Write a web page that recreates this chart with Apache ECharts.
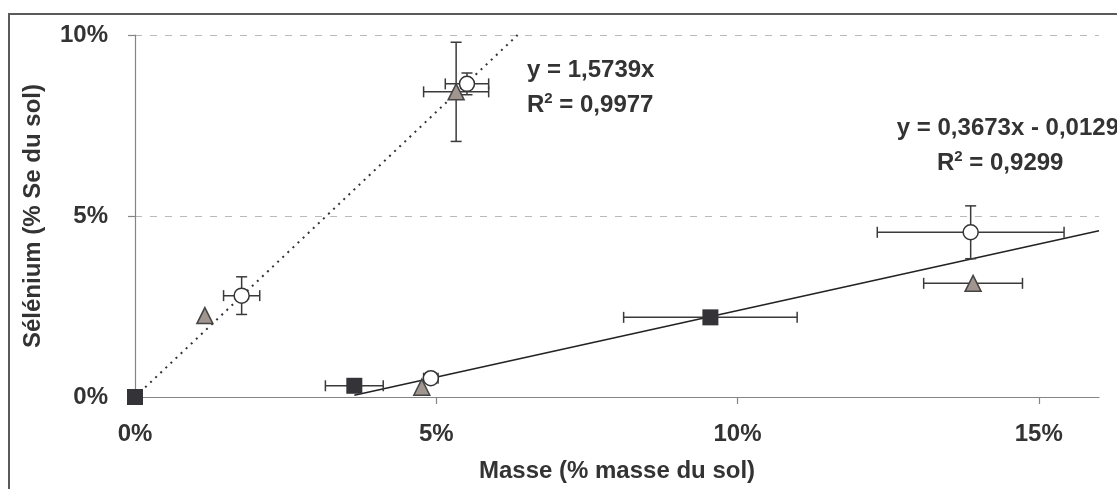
<!DOCTYPE html>
<html lang="fr">
<head>
    <meta charset="UTF-8">
    <title>Sélénium vs masse</title>
    <script src="https://cdn.jsdelivr.net/npm/echarts@6/dist/echarts.min.js"></script>
    <style>
        html, body {
            margin: 0;
            padding: 0;
            background: #fff;
        }

        #main {
            width: 1117px;
            height: 489px;
        }
    </style>
</head>
<body>
<div id="main"></div>
<script>
    // values in % of soil
    var squareX = [0, 3.64, 9.55];
    var squareY = [0, 0.31, 2.2];
    var squareXErr = [0, 0.48, 1.44];
    var squareYErr = [0, 0, 0];

    var circleX = [1.77, 4.91, 5.51, 13.87];
    var circleY = [2.8, 0.52, 8.65, 4.55];
    var circleXErr = [0.3, 0.12, 0.36, 1.55];
    var circleYErr = [0.52, 0, 0.3, 0.73];

    var triangleX = [1.16, 4.76, 5.33, 13.91];
    var triangleY = [2.25, 0.27, 8.43, 3.14];
    var triangleXErr = [0, 0, 0.54, 0.82];
    var triangleYErr = [0, 0, 1.37, 0];

    // trend lines (end points)
    var fitSteep = [[0, 0], [6.35, 10]];
    var fitShallow = [[3.64, 0.05], [16, 4.59]];

    var xTicks = [0, 5, 10, 15];
    var yTicks = [0, 5, 10];

    var FONT = '"Liberation Sans", Arial, sans-serif';
    var TXT = '#333333';

    function pts(xs, ys, xe, ye) {
        var out = [];
        for (var i = 0; i < xs.length; i++) {
            out.push([xs[i], ys[i], xe[i], ye[i]]);
        }
        return out;
    }

    var squares = pts(squareX, squareY, squareXErr, squareYErr);
    var circles = pts(circleX, circleY, circleXErr, circleYErr);
    var triangles = pts(triangleX, triangleY, triangleXErr, triangleYErr);

    // error bars with caps
    function errorBars(params, api) {
        var x = api.value(0), y = api.value(1);
        var xe = api.value(2), ye = api.value(3);
        var cap = 5.5;
        var style = {stroke: '#3a3a3a', lineWidth: 1.5};
        var kids = [];
        if (xe > 0) {
            var l = api.coord([x - xe, y]), r = api.coord([x + xe, y]);
            kids.push({type: 'line', shape: {x1: l[0], y1: l[1], x2: r[0], y2: r[1]}, style: style});
            kids.push({type: 'line', shape: {x1: l[0], y1: l[1] - cap, x2: l[0], y2: l[1] + cap}, style: style});
            kids.push({type: 'line', shape: {x1: r[0], y1: r[1] - cap, x2: r[0], y2: r[1] + cap}, style: style});
        }
        if (ye > 0) {
            var t = api.coord([x, y + ye]), b = api.coord([x, y - ye]);
            kids.push({type: 'line', shape: {x1: t[0], y1: t[1], x2: b[0], y2: b[1]}, style: style});
            kids.push({type: 'line', shape: {x1: t[0] - cap, y1: t[1], x2: t[0] + cap, y2: t[1]}, style: style});
            kids.push({type: 'line', shape: {x1: b[0] - cap, y1: b[1], x2: b[0] + cap, y2: b[1]}, style: style});
        }
        return {type: 'group', children: kids};
    }

    function errSeries(data) {
        return {
            type: 'custom',
            renderItem: errorBars,
            data: data,
            z: 2,
            silent: true,
            clip: false
        };
    }

    var myChart = echarts.init(document.getElementById('main'), null, {renderer: 'canvas'});
    var option = {
        backgroundColor: '#ffffff',
        animation: false,
        textStyle: {fontFamily: FONT},
        grid: {left: 135, right: 18, top: 35, bottom: 92},
        xAxis: {
            type: 'value',
            min: 0,
            max: 16,
            interval: 5,
            name: 'Masse (% masse du sol)',
            nameLocation: 'middle',
            nameGap: 62,
            nameTextStyle: {fontFamily: FONT, fontSize: 24, fontWeight: 'bold', color: TXT},
            axisLine: {onZero: false, lineStyle: {color: '#858585', width: 1.2}},
            axisTick: {show: true, length: 7, customValues: [5, 10, 15], lineStyle: {color: '#858585', width: 1.2}},
            axisLabel: {
                customValues: xTicks,
                margin: 25,
                fontFamily: FONT, fontSize: 24, fontWeight: 'bold', color: TXT,
                formatter: function (v) { return v + '%'; }
            },
            splitLine: {show: false}
        },
        yAxis: {
            type: 'value',
            min: 0,
            max: 10,
            interval: 5,
            name: 'Sélénium (% Se du sol)',
            nameLocation: 'middle',
            nameGap: 90,
            nameTextStyle: {fontFamily: FONT, fontSize: 24, fontWeight: 'bold', color: TXT},
            axisLine: {show: true, onZero: false, lineStyle: {color: '#858585', width: 1.2}},
            axisTick: {show: true, length: 7, customValues: yTicks, lineStyle: {color: '#858585', width: 1.2}},
            axisLabel: {
                customValues: yTicks,
                margin: 27,
                fontFamily: FONT, fontSize: 24, fontWeight: 'bold', color: TXT,
                formatter: function (v) { return v + '%'; }
            },
            splitLine: {
                show: true,
                lineStyle: {color: '#bdb9b5', width: 1.2, type: [7, 8]}
            }
        },
        graphic: [
            {
                type: 'rect', z: -1, silent: true,
                shape: {x: 9, y: 14, width: 1300, height: 700},
                style: {fill: 'none', stroke: '#5a5a5a', lineWidth: 2}
            },
            {
                type: 'text', x: 527, y: 70, z: 10,
                style: {text: 'y = 1,5739x', font: 'bold 24px ' + FONT, fill: TXT, verticalAlign: 'middle'}
            },
            {
                type: 'text', x: 527, y: 105, z: 10,
                style: {
                    text: '{b|R}{s|2}{b| = 0,9977}', verticalAlign: 'middle', fill: TXT,
                    rich: {
                        b: {font: 'bold 24px ' + FONT, fill: TXT, lineHeight: 28},
                        s: {font: 'bold 15px ' + FONT, fill: TXT, lineHeight: 28, verticalAlign: 'top', padding: [0, 0, 12, 0]}
                    }
                }
            },
            {
                type: 'text', x: 1119, y: 128, z: 10,
                style: {text: 'y = 0,3673x - 0,0129', font: 'bold 24px ' + FONT, fill: TXT, align: 'right', verticalAlign: 'middle'}
            },
            {
                type: 'text', x: 937, y: 163, z: 10,
                style: {
                    text: '{b|R}{s|2}{b| = 0,9299}', verticalAlign: 'middle', fill: TXT,
                    rich: {
                        b: {font: 'bold 24px ' + FONT, fill: TXT, lineHeight: 28},
                        s: {font: 'bold 15px ' + FONT, fill: TXT, lineHeight: 28, verticalAlign: 'top', padding: [0, 0, 12, 0]}
                    }
                }
            }
        ],
        series: [
            {
                type: 'line',
                data: fitSteep,
                symbol: 'none',
                silent: true,
                z: 1,
                lineStyle: {color: '#333', width: 2, type: [2, 5]}
            },
            {
                type: 'line',
                data: fitShallow,
                symbol: 'none',
                silent: true,
                z: 1,
                lineStyle: {color: '#222', width: 1.6}
            },
            errSeries(squares),
            errSeries(circles),
            errSeries(triangles),
            {
                type: 'scatter',
                data: squares,
                symbol: 'rect',
                symbolSize: 16,
                z: 5,
                clip: false,
                itemStyle: {color: '#333338', opacity: 1}
            },
            {
                type: 'scatter',
                data: circles,
                symbol: 'circle',
                symbolSize: 15,
                z: 5,
                clip: false,
                itemStyle: {color: '#ffffff', borderColor: '#333', borderWidth: 1.5, opacity: 1}
            },
            {
                type: 'scatter',
                data: triangles,
                symbol: 'triangle',
                symbolSize: 16,
                z: 5,
                clip: false,
                itemStyle: {color: '#a0958f', borderColor: '#444', borderWidth: 1.5, opacity: 1}
            }
        ]
    };
    myChart.setOption(option);
</script>
</body>
</html>
